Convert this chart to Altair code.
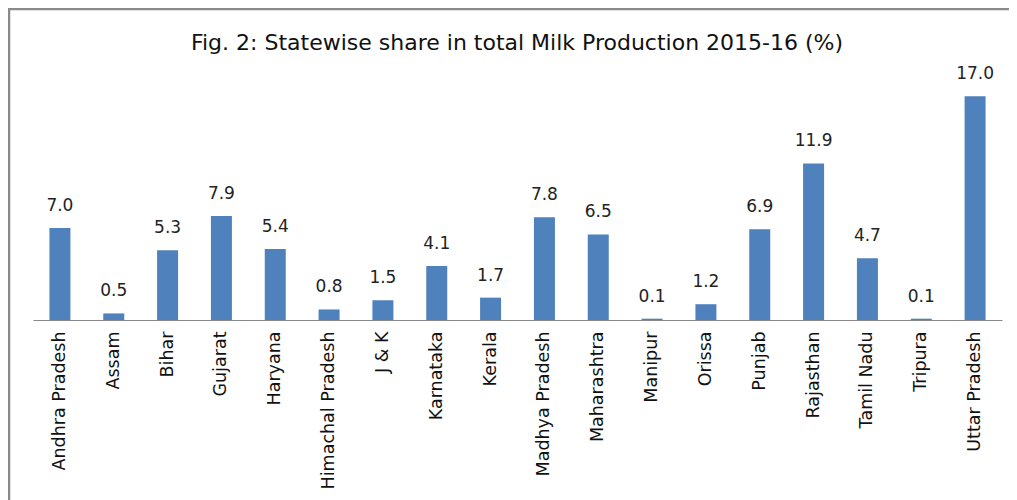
import altair as alt
import pandas as pd

states = ["Andhra Pradesh", "Assam", "Bihar", "Gujarat", "Haryana",
          "Himachal Pradesh", "J & K", "Karnataka", "Kerala", "Madhya Pradesh",
          "Maharashtra", "Manipur", "Orissa", "Punjab", "Rajasthan",
          "Tamil Nadu", "Tripura", "Uttar Pradesh"]
shares = [7.0, 0.5, 5.3, 7.9, 5.4, 0.8, 1.5, 4.1, 1.7, 7.8, 6.5, 0.1, 1.2,
          6.9, 11.9, 4.7, 0.1, 17.0]
title_text = ["Fig. 2: Statewise share in total Milk Production 2015-16 (%)"]

df = pd.DataFrame({"state": states, "share": shares})
df["label"] = [f"{v:.1f}" for v in shares]
tdf = pd.DataFrame({"t": title_text})

FONT = "DejaVu Sans"

x = alt.X("state:N", sort=states, title=None,
          scale=alt.Scale(paddingInner=0.61, paddingOuter=0.305),
          axis=alt.Axis(labelAngle=-90, ticks=False, labelPadding=11,
                        labelFontSize=17.5, labelFont=FONT, labelColor="#111",
                        domainColor="#888", domainWidth=1.2, grid=False))
y = alt.Y("share:Q", title=None, scale=alt.Scale(domain=[0, 19], nice=False),
          axis=None)

bars = alt.Chart(df).mark_bar(color="#4F81BD").encode(x=x, y=y)
labels = alt.Chart(df).mark_text(
    baseline="alphabetic", dy=-17, fontSize=17, font=FONT, color="#222"
).encode(x=alt.X("state:N", sort=states), y="share:Q", text="label:N")

border_top = alt.Chart(tdf).mark_rule(stroke="#8a8a8a", strokeWidth=2.5).encode(
    x=alt.value(-25), x2=alt.value(2000), y=alt.value(-61))
border_left = alt.Chart(tdf).mark_rule(stroke="#8a8a8a", strokeWidth=2.5).encode(
    x=alt.value(-24), y=alt.value(-62), y2=alt.value(700))

title = alt.Chart(tdf).mark_text(
    baseline="alphabetic", align="center", fontSize=22, font=FONT, color="#111"
).encode(x=alt.value(484), y=alt.value(-20), text="t:N")

chart = alt.layer(border_top, border_left, bars, labels, title).properties(
    width=969, height=250,
    autosize=alt.AutoSizeParams(type="none"),
    padding={"left": 25, "top": 62, "right": 7, "bottom": 180},
).configure_view(stroke=None)

chart.save("out.html", embed_options={"renderer": "svg", "actions": False})
